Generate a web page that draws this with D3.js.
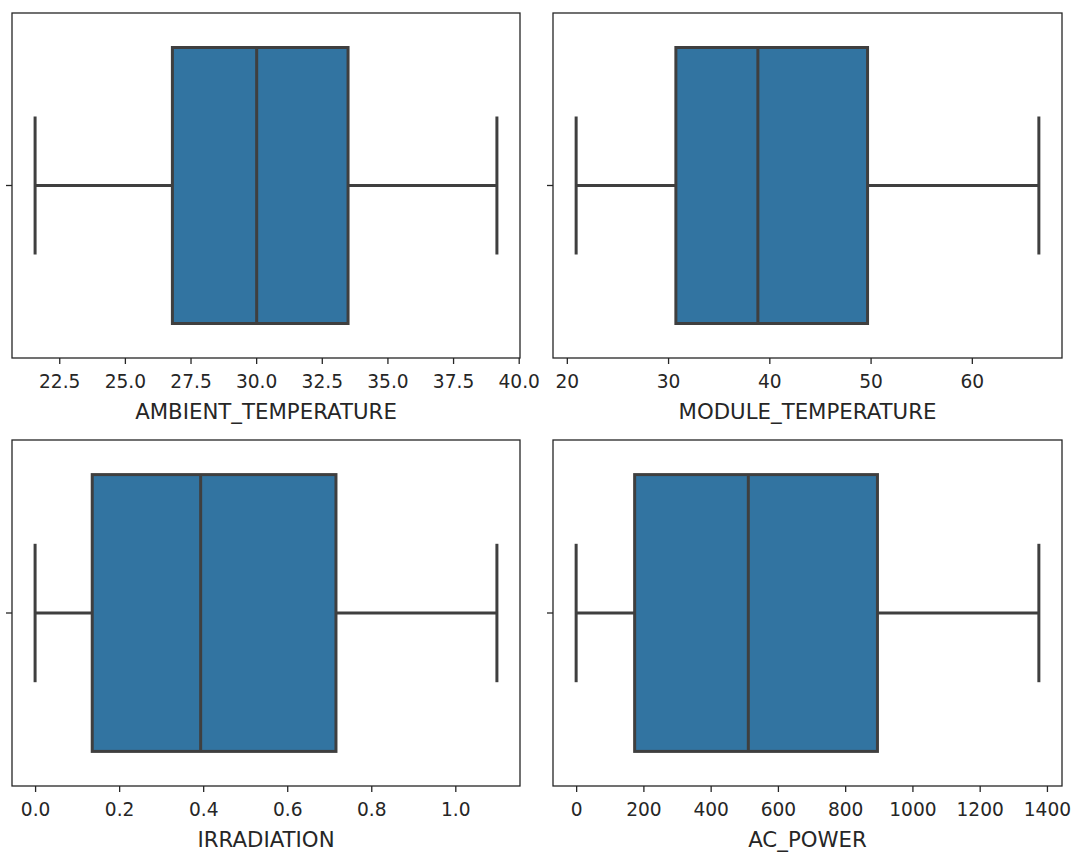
<!DOCTYPE html>
<html>
<head>
<meta charset="utf-8">
<script src="https://cdn.jsdelivr.net/npm/d3@7"></script>
<style>
  html, body { margin: 0; padding: 0; background: #fff; }
  svg { display: block; }
  text { font-family: "DejaVu Sans", sans-serif; fill: #262626; }
</style>
</head>
<body>
<svg id="chart" width="1071" height="852"></svg>
<script>
// Five-number summaries of the solar plant measurements
const variables   = ["AMBIENT_TEMPERATURE", "MODULE_TEMPERATURE", "IRRADIATION", "AC_POWER"];
const whiskerLow  = [21.58, 20.92, 0.0,   0];
const quartile1   = [26.81, 30.77, 0.136, 174];
const medians     = [30.02, 38.87, 0.394, 512];
const quartile3   = [33.50, 49.70, 0.716, 896];
const whiskerHigh = [39.17, 66.62, 1.099, 1376];

// Tick values for each panel's x axis
const tickValues = [
  [22.5, 25.0, 27.5, 30.0, 32.5, 35.0, 37.5, 40.0],
  [20, 30, 40, 50, 60],
  [0.0, 0.2, 0.4, 0.6, 0.8, 1.0],
  [0, 200, 400, 600, 800, 1000, 1200, 1400]
];
const tickFormats = [".1f", "d", ".1f", "d"];

// Panel frames in a 2 x 2 grid
const panels = [
  { x0: 12,  x1: 520,  y0: 13,  y1: 358 },
  { x0: 553, x1: 1062, y0: 13,  y1: 358 },
  { x0: 12,  x1: 520,  y0: 440, y1: 786 },
  { x0: 553, x1: 1062, y0: 440, y1: 786 }
];

const boxFill = "#3274a1";
const lineGray = "#3f3f3f";
const lineW = 3;
const tickFont = 18.6;
const labelFont = 21.3;

const svg = d3.select("#chart");

variables.forEach((name, i) => {
  const p = panels[i];
  const lo = whiskerLow[i], hi = whiskerHigh[i];
  const pad = (hi - lo) * 0.05;

  const x = d3.scaleLinear().domain([lo - pad, hi + pad]).range([p.x0, p.x1]);
  // single category, spanning -0.5 .. 0.5
  const y = d3.scaleLinear().domain([-0.5, 0.5]).range([p.y0, p.y1]);

  const g = svg.append("g");

  // whiskers
  g.append("line")
    .attr("x1", x(lo)).attr("x2", x(quartile1[i]))
    .attr("y1", y(0)).attr("y2", y(0))
    .attr("stroke", lineGray).attr("stroke-width", lineW);
  g.append("line")
    .attr("x1", x(quartile3[i])).attr("x2", x(hi))
    .attr("y1", y(0)).attr("y2", y(0))
    .attr("stroke", lineGray).attr("stroke-width", lineW);

  // caps
  [lo, hi].forEach(v => {
    g.append("line")
      .attr("x1", x(v)).attr("x2", x(v))
      .attr("y1", y(-0.2)).attr("y2", y(0.2))
      .attr("stroke", lineGray).attr("stroke-width", lineW)
      .attr("stroke-linecap", "butt");
  });

  // box
  g.append("rect")
    .attr("x", x(quartile1[i]))
    .attr("y", y(-0.4))
    .attr("width", x(quartile3[i]) - x(quartile1[i]))
    .attr("height", y(0.4) - y(-0.4))
    .attr("fill", boxFill)
    .attr("stroke", lineGray).attr("stroke-width", lineW);

  // median
  g.append("line")
    .attr("x1", x(medians[i])).attr("x2", x(medians[i]))
    .attr("y1", y(-0.4)).attr("y2", y(0.4))
    .attr("stroke", lineGray).attr("stroke-width", lineW);

  // frame
  g.append("rect")
    .attr("x", p.x0).attr("y", p.y0)
    .attr("width", p.x1 - p.x0).attr("height", p.y1 - p.y0)
    .attr("fill", "none").attr("stroke", "#262626").attr("stroke-width", 1.3);

  // x axis
  const ax = g.append("g")
    .attr("transform", `translate(0,${p.y1})`)
    .call(d3.axisBottom(x)
      .tickValues(tickValues[i])
      .tickFormat(d3.format(tickFormats[i]))
      .tickSize(6)
      .tickPadding(11));
  ax.select(".domain").remove();
  ax.selectAll(".tick line").attr("stroke", "#262626").attr("stroke-width", 1.3);
  ax.selectAll(".tick text")
    .attr("font-size", tickFont)
    .attr("font-family", "DejaVu Sans, sans-serif")
    .attr("fill", "#262626");

  // single unlabeled y tick
  g.append("line")
    .attr("x1", p.x0 - 6).attr("x2", p.x0)
    .attr("y1", y(0)).attr("y2", y(0))
    .attr("stroke", "#262626").attr("stroke-width", 1.3);

  // axis label
  g.append("text")
    .attr("x", (p.x0 + p.x1) / 2)
    .attr("y", p.y1 + 61)
    .attr("text-anchor", "middle")
    .attr("font-size", labelFont)
    .text(name);
});
</script>
</body>
</html>
